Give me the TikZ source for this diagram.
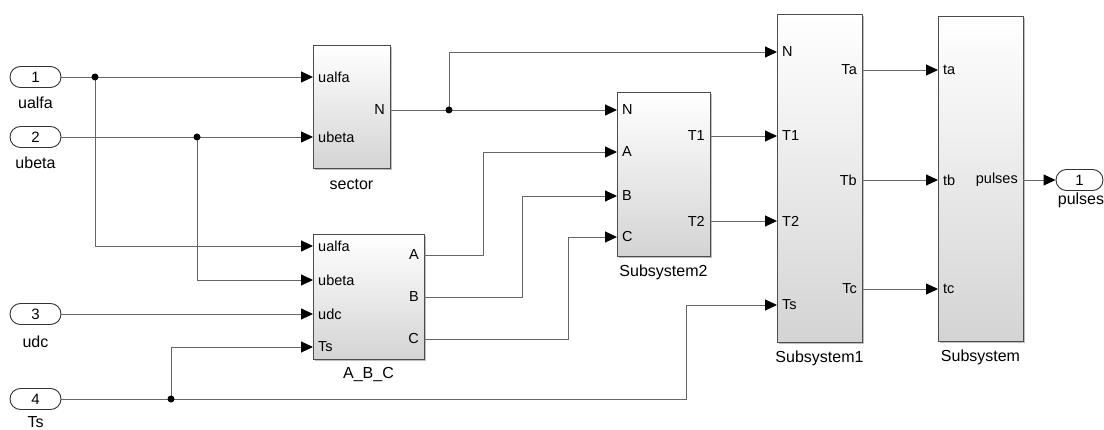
\documentclass[tikz,border=0pt]{standalone}
\usepackage{fontspec}
\setmainfont{Liberation Sans}
\usetikzlibrary{arrows.meta,shapes.misc,shadows}
\begin{document}
\begin{tikzpicture}[x=1pt,y=-1pt,
  font=\fontsize{14.5}{16}\selectfont,
  blk/.style={draw=black!70, line width=0.9pt, top color=white, bottom color=black!17,
    anchor=north west, inner sep=0pt,
    drop shadow={shadow xshift=1.5pt, shadow yshift=-1.5pt, opacity=0.25, fill=black}},
  wire/.style={draw=black!60, line width=0.9pt},
  arr/.style={wire, -{Triangle[length=12pt,width=11pt,color=black]}},
  ioport/.style={draw=black!80, line width=0.9pt, rounded rectangle, minimum width=51pt,
    minimum height=21pt, inner sep=0pt, fill=white, font=\fontsize{15}{16}\selectfont},
  dot/.style={circle, fill=black, inner sep=0pt, minimum size=7pt},
  inlab/.style={anchor=west, inner sep=0pt, xshift=5pt},
  outlab/.style={anchor=east, inner sep=0pt, xshift=-5pt},
  blkcap/.style={anchor=center, inner sep=0pt, font=\fontsize{16}{18}\selectfont}
]
\useasboundingbox (0,0) rectangle (1104,430);

% blocks
\node[blk, minimum width=77pt, minimum height=123pt] (sector) at (313,45) {};
\node[blk, minimum width=111pt, minimum height=125pt] (abc) at (313,234) {};
\node[blk, minimum width=93pt, minimum height=164pt] (subtwo) at (617,92) {};
\node[blk, minimum width=85pt, minimum height=328pt] (subone) at (777,14) {};
\node[blk, minimum width=85pt, minimum height=325pt] (sub) at (938,16) {};

% block captions
\node[blkcap] (capsector) at (351.5,184) {sector};
\node[blkcap] (capabc) at (368.5,375) {A\_B\_C};
\node[blkcap] (capsubtwo) at (663.5,272) {Subsystem2};
\node[blkcap] (capsubone) at (819.5,358) {Subsystem1};
\node[blkcap] (capsub) at (980.5,357) {Subsystem};

% ports
\coordinate (sec-i1) at (313,77);
\coordinate (sec-i2) at (313,137);
\coordinate (sec-o1) at (390,110);
\coordinate (abc-i1) at (313,246);
\coordinate (abc-i2) at (313,280);
\coordinate (abc-i3) at (313,314);
\coordinate (abc-i4) at (313,347);
\coordinate (abc-o1) at (424,255);
\coordinate (abc-o2) at (424,297);
\coordinate (abc-o3) at (424,339);
\coordinate (s2-i1) at (617,110);
\coordinate (s2-i2) at (617,152);
\coordinate (s2-i3) at (617,196);
\coordinate (s2-i4) at (617,237);
\coordinate (s2-o1) at (710,136);
\coordinate (s2-o2) at (710,221);
\coordinate (s1-i1) at (777,52);
\coordinate (s1-i2) at (777,136);
\coordinate (s1-i3) at (777,221);
\coordinate (s1-i4) at (777,305);
\coordinate (s1-o1) at (862,70);
\coordinate (s1-o2) at (862,180);
\coordinate (s1-o3) at (862,289);
\coordinate (s-i1) at (938,70);
\coordinate (s-i2) at (938,180);
\coordinate (s-i3) at (938,289);
\coordinate (s-o1) at (1023,180);

% port labels
\node[inlab] (l1) at (sec-i1) {ualfa};
\node[inlab] (l2) at (sec-i2) {ubeta};
\node[outlab] (l3) at (sec-o1) {N};
\node[inlab] (l4) at (abc-i1) {ualfa};
\node[inlab] (l5) at (abc-i2) {ubeta};
\node[inlab] (l6) at (abc-i3) {udc};
\node[inlab] (l7) at (abc-i4) {Ts};
\node[outlab] (l8) at (abc-o1) {A};
\node[outlab] (l9) at (abc-o2) {B};
\node[outlab] (l10) at (abc-o3) {C};
\node[inlab] (l11) at (s2-i1) {N};
\node[inlab] (l12) at (s2-i2) {A};
\node[inlab] (l13) at (s2-i3) {B};
\node[inlab] (l14) at (s2-i4) {C};
\node[outlab] (l15) at (s2-o1) {T1};
\node[outlab] (l16) at (s2-o2) {T2};
\node[inlab] (l17) at (s1-i1) {N};
\node[inlab] (l18) at (s1-i2) {T1};
\node[inlab] (l19) at (s1-i3) {T2};
\node[inlab] (l20) at (s1-i4) {Ts};
\node[outlab] (l21) at (s1-o1) {Ta};
\node[outlab] (l22) at (s1-o2) {Tb};
\node[outlab] (l23) at (s1-o3) {Tc};
\node[inlab] (l24) at (s-i1) {ta};
\node[inlab] (l25) at (s-i2) {tb};
\node[inlab] (l26) at (s-i3) {tc};
\node[outlab] (l27) at (s-o1) {pulses};

% inports / outport
\node[ioport] (in1) at (35.5,77) {1};
\node[ioport] (in2) at (35.5,137) {2};
\node[ioport] (in3) at (35.5,314) {3};
\node[ioport] (in4) at (35.5,399) {4};
\node[ioport, minimum width=47pt] (out1) at (1079.5,180) {1};
\node[blkcap] (lin1) at (35.5,103) {ualfa};
\node[blkcap] (lin2) at (35.5,163) {ubeta};
\node[blkcap] (lin3) at (35.5,342) {udc};
\node[blkcap] (lin4) at (35.5,422) {Ts};
\node[blkcap] (lout1) at (1081,200) {pulses};

% junction points
\coordinate (p1) at (95,77);
\coordinate (p2) at (197,137);
\coordinate (p3) at (449,110);
\coordinate (p4) at (171,399);
\coordinate (c4) at (686,399);

% wires
\draw[arr] (in1.east) -- (sec-i1);
\draw[arr] (p1) |- (abc-i1);
\draw[arr] (in2.east) -- (sec-i2);
\draw[arr] (p2) |- (abc-i2);
\draw[arr] (in3.east) -- (abc-i3);
\draw[arr] (p4) |- (abc-i4);
\draw[arr] (in4.east) -- (c4) |- (s1-i4);
\draw[arr] (sec-o1) -- (s2-i1);
\draw[arr] (p3) |- (s1-i1);
\draw[arr] (abc-o1) -- +(59,0) |- (s2-i2);
\draw[arr] (abc-o2) -- +(98,0) |- (s2-i3);
\draw[arr] (abc-o3) -- +(144,0) |- (s2-i4);
\draw[arr] (s2-o1) -- (s1-i2);
\draw[arr] (s2-o2) -- (s1-i3);
\draw[arr] (s1-o1) -- (s-i1);
\draw[arr] (s1-o2) -- (s-i2);
\draw[arr] (s1-o3) -- (s-i3);
\draw[arr] (s-o1) -- (out1.west);

% junction dots
\node[dot] (j1) at (p1) {};
\node[dot] (j2) at (p2) {};
\node[dot] (j3) at (p3) {};
\node[dot] (j4) at (p4) {};
\end{tikzpicture}
\end{document}
